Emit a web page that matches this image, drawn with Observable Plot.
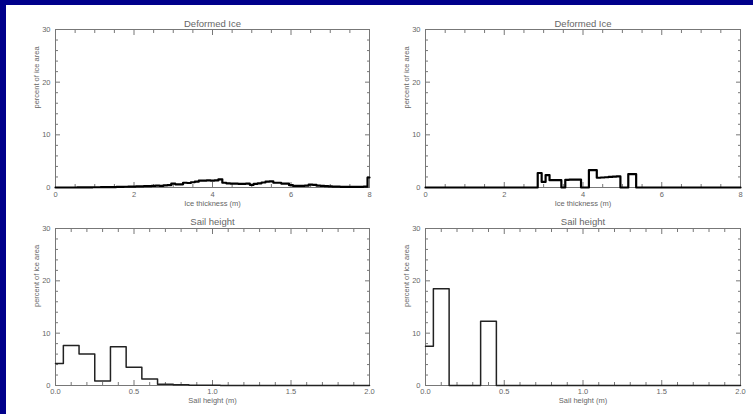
<!DOCTYPE html>
<html><head><meta charset="utf-8">
<script src="https://cdn.jsdelivr.net/npm/d3@7"></script>
<script src="https://cdn.jsdelivr.net/npm/@observablehq/plot@0.6"></script>
<style>
html,body{margin:0;padding:0;background:#fff;}
#page{position:relative;width:753px;height:414px;overflow:hidden;background:#fff;}
.panel{position:absolute;}
.bar{position:absolute;background:#00008b;z-index:5;}
</style></head><body>
<div id="page">
  <div class="bar" style="left:0;top:0;width:753px;height:5px"></div>
  <div class="bar" style="left:0;top:0;width:6px;height:414px"></div>
</div>
<script>
// ---- data ----
const thicknessBins = d3.range(81).map(i => i / 10);      // bin centres, m
const sailBins = d3.range(21).map(i => i / 10);           // bin centres, m

const deformedLeft = [
  0, 0, 0, 0, 0, 0, 0.02, 0.02, 0.03, 0.04,
  0.05, 0.05, 0.06, 0.07, 0.08, 0.09, 0.1, 0.12, 0.14, 0.16,
  0.18, 0.2, 0.22, 0.25, 0.25, 0.3, 0.35, 0.3, 0.4, 0.45,
  0.75, 0.6, 0.6, 0.9, 0.85, 1.0, 1.1, 1.3, 1.3, 1.35,
  1.3, 1.35, 1.55, 0.9, 0.8, 0.75, 0.75, 0.7, 0.7, 0.75,
  0.5, 0.7, 0.8, 0.95, 1.1, 1.15, 0.9, 0.9, 0.75, 0.75,
  0.45, 0.3, 0.3, 0.3, 0.35, 0.55, 0.5, 0.35, 0.3, 0.25,
  0.2, 0.15, 0.15, 0.12, 0.12, 0.1, 0.1, 0.1, 0.12, 0.15,
  1.9
];
const deformedRight = [
  0, 0, 0, 0, 0, 0, 0, 0, 0, 0,
  0, 0, 0, 0, 0, 0, 0, 0, 0, 0,
  0, 0, 0, 0, 0, 0, 0, 0, 0, 2.75,
  1.05, 2.35, 1.4, 1.4, 1.4, 0, 1.45, 1.5, 1.5, 1.5,
  0, 0, 3.3, 3.3, 1.85, 1.9, 1.95, 2.0, 2.05, 2.1,
  0, 0, 2.55, 2.55, 0, 0, 0, 0, 0, 0,
  0, 0, 0, 0, 0, 0, 0, 0, 0, 0,
  0, 0, 0, 0, 0, 0, 0, 0, 0, 0,
  0
];
const sailLeft = [4.2, 7.65, 6.0, 0.85, 7.4, 3.5, 1.25, 0.25, 0.12, 0.05, 0.03, 0.02, 0, 0, 0, 0, 0, 0, 0, 0, 0];
const sailRight = [7.5, 18.5, 0, 0, 12.3, 0, 0, 0, 0, 0, 0, 0, 0, 0, 0, 0, 0, 0, 0, 0, 0];

const yMajor = [0, 10, 20, 30];
const yMinor = d3.range(0, 30.01, 2).filter(v => v % 10 !== 0);
const thickMajor = [0, 2, 4, 6, 8];
const thickMinor = d3.range(0, 8.01, 0.5).filter(v => v % 2 !== 0);
const sailMajor = [0, 0.5, 1.0, 1.5, 2.0];
const sailMinor = d3.range(1, 20).filter(i => i % 5 !== 0).map(i => i / 10);

const titles = ["Deformed Ice", "Sail height"];
const xLabels = ["Ice thickness (m)", "Sail height (m)"];
const yLabel = "percent of ice area";

// ---- drawing ----
const axisColor = "#777";
const textColor = "#666";
const font = "Liberation Sans, Arial, sans-serif";

function panel(o) {
  const data = o.xs.map((x, i) => ({x, y: o.ys[i]}));
  const tick = (ticks, anchor, size, dim) =>
    (dim === "x" ? Plot.axisX : Plot.axisY)(ticks, {anchor, tickSize: -size, tickFormat: () => "", label: null, stroke: axisColor});
  const chart = Plot.plot({
    width: o.width, height: o.height,
    marginLeft: o.mL, marginRight: o.mR, marginTop: o.mT, marginBottom: o.mB,
    style: {background: "transparent", fontFamily: font, fontSize: "7.5px", color: textColor, overflow: "visible"},
    x: {domain: o.xDomain},
    y: {domain: [0, 30]},
    marks: [
      tick(o.xMajor, "bottom", 5, "x"), tick(o.xMinor, "bottom", 3, "x"),
      tick(o.xMajor, "top", 5, "x"), tick(o.xMinor, "top", 3, "x"),
      tick(yMajor, "left", 5, "y"), tick(yMinor, "left", 3, "y"),
      tick(yMajor, "right", 5, "y"), tick(yMinor, "right", 3, "y"),
      Plot.axisX(o.xMajor, {anchor: "bottom", tickSize: 0, tickPadding: o.xPad, tickFormat: o.xFmt, label: null, fill: textColor}),
      Plot.axisY(yMajor, {anchor: "left", tickSize: 0, tickPadding: 5, tickFormat: d3.format("d"), label: null, fill: textColor}),
      Plot.frame({stroke: axisColor}),
      Plot.line(data, {x: "x", y: "y", curve: "step", stroke: o.stroke, strokeWidth: o.sw}),
      Plot.text([o.title], {text: d => d, frameAnchor: "top", lineAnchor: "middle", dy: o.titleDy, fontSize: 9.5, fill: textColor}),
      Plot.text([o.xlabel], {text: d => d, frameAnchor: "bottom", lineAnchor: "middle", dy: o.xTitleDy, fontSize: 7.5, fill: textColor}),
      Plot.text([yLabel], {text: d => d, frameAnchor: "left", lineAnchor: "middle", dx: -19, rotate: -90, fontSize: 7.5, fill: textColor})
    ]
  });
  const div = document.createElement("div");
  div.className = "panel";
  div.style.left = o.left + "px";
  div.style.top = o.top + "px";
  div.appendChild(chart);
  document.getElementById("page").appendChild(div);
}

const topRow = {top: 0, height: 207, mT: 29, mB: 20, titleDy: -6, xPad: 4, xTitleDy: 16,
  xDomain: [0, 8], xMajor: thickMajor, xMinor: thickMinor, xFmt: d3.format("d"),
  title: titles[0], xlabel: xLabels[0], stroke: "#000", sw: 2.2, xs: thicknessBins};
const botRow = {top: 207, height: 207, mT: 21, mB: 29, titleDy: -7, xPad: 3, xTitleDy: 15,
  xDomain: [0, 2], xMajor: sailMajor, xMinor: sailMinor, xFmt: d3.format(".1f"),
  title: titles[1], xlabel: xLabels[1], stroke: "#222", sw: 1.5, xs: sailBins};
const leftCol = {left: 0, width: 373, mL: 55, mR: 4};
const rightCol = {left: 373, width: 380, mL: 52, mR: 13};

panel({...topRow, ...leftCol, ys: deformedLeft});
panel({...topRow, ...rightCol, ys: deformedRight});
panel({...botRow, ...leftCol, ys: sailLeft});
panel({...botRow, ...rightCol, ys: sailRight});
</script>
</body></html>
